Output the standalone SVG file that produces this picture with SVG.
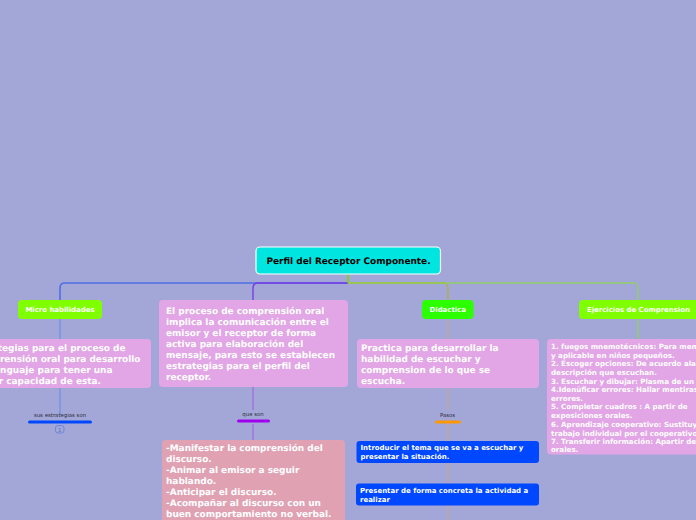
<svg xmlns="http://www.w3.org/2000/svg" width="696" height="520" viewBox="0 0 696 520">
<style>
text{font-family:"DejaVu Sans",Verdana,sans-serif;font-weight:700;fill:#fff;text-rendering:geometricPrecision}
.big{font-size:8.95px}
.mid{font-size:7.1px}
.sm{font-size:6.97px}
.tag{font-size:6.95px}
.lab{font-size:5.4px;fill:#2c2c40;font-weight:400;text-anchor:middle}
.c{text-anchor:middle}
.e{text-anchor:end}
.pk{fill:#e2a5e6}
.gr{fill:#80ff00}
.bl{fill:#0048ff}
.ln{fill:none;stroke-linecap:butt}
</style>
<rect width="696" height="520" fill="#a3a7d7"/>
<g id="connectors">
<path class="ln" d="M348 283H65Q60 283 60 288V300" stroke="#4f6fe6" stroke-width="1.600"/>
<path class="ln" d="M348 283H258Q253 283 253 288V300" stroke="#7a3ce8" stroke-width="1.400"/>
<path class="ln" d="M348 283H443Q448 283 448 288V300" stroke="#b5ad2a" stroke-width="1.200"/>
<path class="ln" d="M348 283H634Q638 283 638 288V300" stroke="#86e030" stroke-width="1"/>
<path class="ln" d="M348 274V283" stroke="#7fd400" stroke-width="1.600"/>
<path class="ln" d="M60 319V339M60 388V415" stroke="#6f8fe4" stroke-width="1.200"/>
<path class="ln" d="M253 387V410M253 424V440" stroke="#9a5ce0" stroke-width="1"/>
<path class="ln" d="M448 319V339M448 388V410M448 424V441M448 463V484M448 505V520" stroke="#d0a488" stroke-width="1"/>
<path class="ln" d="M638 319V339" stroke="#86e030" stroke-width="1"/>
<rect x="28" y="420.500" width="64" height="3" rx="1.500" fill="#0048ff"/>
<rect x="237" y="419.500" width="33" height="3" rx="1.500" fill="#a000f0"/>
<rect x="435" y="420.500" width="26" height="3" rx="1.500" fill="#ff9800"/>
</g>
<g id="root">
<rect x="256" y="247" width="184.500" height="27" rx="4" fill="#00e5e0" stroke="#fff" stroke-width="1.200"/>
<text class="big c" x="348.500" y="264" style="fill:#000">Perfil del Receptor Componente.</text>
</g>
<g id="micro">
<rect class="gr" x="18" y="300" width="84" height="19" rx="4"/>
<text class="tag c" x="60" y="312">Micro habilidades</text>
</g>
<g id="micro-text">
<rect class="pk" x="-20" y="339" width="171" height="49" rx="4"/>
<text class="big e"><tspan x="125.500" y="351">tegias para el proceso de</tspan><tspan x="140.500" y="362">rensión oral para desarrollo</tspan><tspan x="112.500" y="373">nguaje para tener una</tspan><tspan x="101" y="384">r capacidad de esta.</tspan></text>
</g>
<g id="micro-label">
<text class="lab" x="60" y="417">sus estrategias son</text>
</g>
<g id="micro-badge">
<rect x="55.500" y="425.500" width="8.500" height="7.500" rx="2.500" fill="none" stroke="#5f7fe0" stroke-width="0.800"/>
<text x="59.700" y="431.500" class="lab" style="fill:#5f6fb0">1</text>
</g>
<g id="proceso">
<rect class="pk" x="159" y="300" width="189" height="87" rx="4"/>
<text class="big"><tspan x="166" y="314">El proceso de comprensión oral</tspan><tspan x="166" y="325">implica la comunicación entre el</tspan><tspan x="166" y="336">emisor y el receptor de forma</tspan><tspan x="166" y="347">activa para elaboración del</tspan><tspan x="166" y="358">mensaje, para esto se establecen</tspan><tspan x="166" y="369">estrategias para el perfil del</tspan><tspan x="166" y="380">receptor.</tspan></text>
</g>
<g id="que-son">
<text class="lab" x="253" y="416">que son</text>
</g>
<g id="manifestar">
<rect x="162" y="440" width="183" height="90" rx="4" fill="#e0a2b3"/>
<text class="big"><tspan x="166" y="451">-Manifestar la comprensión del</tspan><tspan x="166" y="462">discurso.</tspan><tspan x="166" y="473">-Animar al emisor a seguir</tspan><tspan x="166" y="484">hablando.</tspan><tspan x="166" y="495">-Anticipar el discurso.</tspan><tspan x="166" y="506">-Acompañar al discurso con un</tspan><tspan x="166" y="517">buen comportamiento no verbal.</tspan></text>
</g>
<g id="didactica">
<rect x="422" y="300" width="51.500" height="19" rx="4" fill="#2bff00"/>
<text class="tag c" x="447.700" y="312">Didactica</text>
</g>
<g id="practica">
<rect class="pk" x="357" y="339" width="182" height="49" rx="4"/>
<text class="big"><tspan x="361" y="351">Practica para desarrollar la</tspan><tspan x="361" y="362">habilidad de escuchar y</tspan><tspan x="361" y="373">comprension de lo que se</tspan><tspan x="361" y="384">escucha.</tspan></text>
</g>
<g id="pasos">
<text class="lab" x="447.500" y="417">Pasos</text>
</g>
<g id="paso1">
<rect class="bl" x="356.500" y="441" width="182.500" height="22" rx="3"/>
<text class="sm"><tspan x="360.500" y="450">Introducir el tema que se va a escuchar y</tspan><tspan x="360.500" y="459">presentar la situación.</tspan></text>
</g>
<g id="paso2">
<rect class="bl" x="356" y="483.500" width="183" height="22" rx="3"/>
<text class="sm"><tspan x="360" y="493">Presentar de forma concreta la actividad a</tspan><tspan x="360" y="501.500">realizar</tspan></text>
</g>
<g id="ejercicios">
<rect class="gr" x="579" y="300" width="125" height="19" rx="4"/>
<text class="tag" x="587" y="312">Ejercicios de Comprension</text>
</g>
<g id="ejercicios-text">
<rect class="pk" x="547" y="339" width="170" height="115.500" rx="4"/>
<text class="mid"><tspan x="551" y="349">1. fuegos mnemotécnicos: Para mem</tspan><tspan x="551" y="357.500">y aplicable en niños pequeños.</tspan><tspan x="551" y="366">2. Escoger opciones: De acuerdo ala</tspan><tspan x="551" y="374.800">descripción que escuchan.</tspan><tspan x="551" y="383.500">3. Escuchar y dibujar: Plasma de un d</tspan><tspan x="551" y="392">4.Idenüficar errores: Hallar mentiras</tspan><tspan x="551" y="400.500">errores.</tspan><tspan x="551" y="409">5. Completar cuadros : A partir de</tspan><tspan x="551" y="418">exposiciones orales.</tspan><tspan x="551" y="426.500">6. Aprendizaje cooperativo: Sustituye</tspan><tspan x="551" y="435.500">trabajo individual por el cooperativo.</tspan><tspan x="551" y="443.500">7. Transferir información: Apartir de</tspan><tspan x="551" y="452">orales.</tspan></text>
</g>
</svg>
